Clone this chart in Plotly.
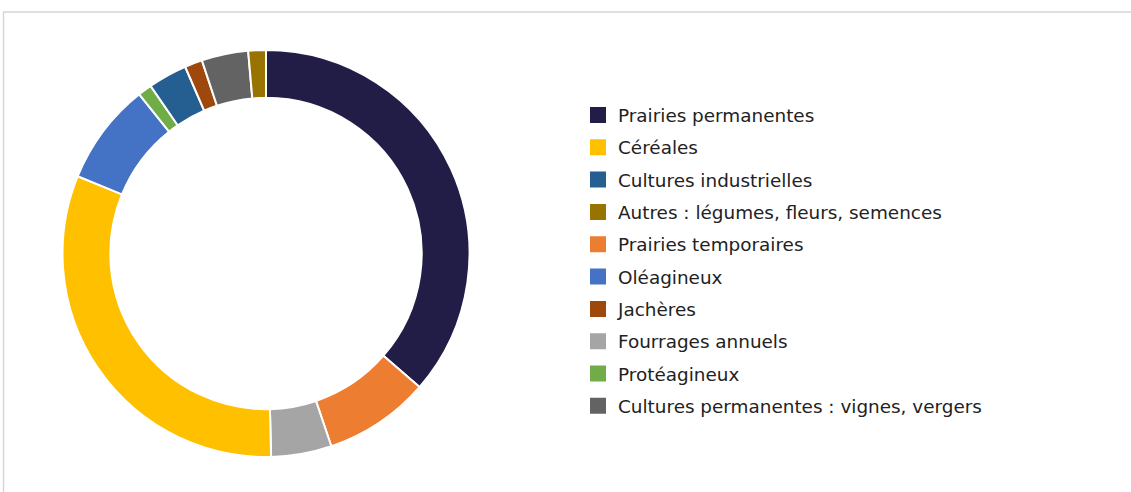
import plotly.graph_objects as go

# Slice order (clockwise from 12 o'clock)
labels = ["Prairies permanentes", "Prairies temporaires", "Fourrages annuels", "Céréales",
          "Oléagineux", "Protéagineux", "Cultures industrielles", "Jachères",
          "Cultures permanentes : vignes, vergers", "Autres : légumes, fleurs, semences"]
values = [36.4, 8.4, 4.8, 31.6, 8.1, 1.1, 3.1, 1.4, 3.7, 1.4]
colors = ["#211D47", "#ED7D31", "#A5A5A5", "#FFC000", "#4472C4", "#70AD47",
          "#255E91", "#9E480E", "#636363", "#997300"]

# Legend order as shown in the reference
legend_order = ["Prairies permanentes", "Céréales", "Cultures industrielles",
                "Autres : légumes, fleurs, semences", "Prairies temporaires", "Oléagineux",
                "Jachères", "Fourrages annuels", "Protéagineux",
                "Cultures permanentes : vignes, vergers"]

color_of = dict(zip(labels, colors))

W, H = 1131, 492
cx, cy, R = 266, 253.5, 203.5
FS = 18.4

fig = go.Figure()
fig.add_trace(go.Pie(
    labels=labels, values=values, sort=False, direction="clockwise", rotation=0,
    hole=0.765, textinfo="none", showlegend=False,
    marker=dict(colors=colors, line=dict(color="white", width=2)),
    domain=dict(x=[(cx - R) / W, (cx + R) / W], y=[(H - cy - R) / H, (H - cy + R) / H]),
))

for i, name in enumerate(legend_order):
    fig.add_trace(go.Scatter(
        x=[None], y=[None], mode="markers", name=name, legendgroup=f"g{i}",
        marker=dict(symbol="square", size=16, color=color_of[name]),
        hoverinfo="skip",
    ))

fig.update_layout(
    width=W, height=H,
    margin=dict(l=0, r=0, t=0, b=0),
    paper_bgcolor="white", plot_bgcolor="white",
    xaxis=dict(visible=False), yaxis=dict(visible=False),
    font=dict(family="DejaVu Sans, sans-serif", size=FS, color="#222222"),
    legend=dict(
        x=578 / W, xanchor="left", y=(H - 96.5) / H, yanchor="top",
        traceorder="grouped", tracegroupgap=5.4,
        itemsizing="trace", bgcolor="rgba(0,0,0,0)",
        font=dict(size=FS),
    ),
    shapes=[dict(type="rect", xref="paper", yref="paper",
                 x0=3.5 / W, x1=1.05, y0=-0.05, y1=(H - 12) / H,
                 line=dict(color="#D6D6D6", width=1.5), layer="below")],
)

fig.write_html("out.html", config={"displayModeBar": False},
               post_script="document.body.style.margin='0';document.body.style.overflow='hidden';")
